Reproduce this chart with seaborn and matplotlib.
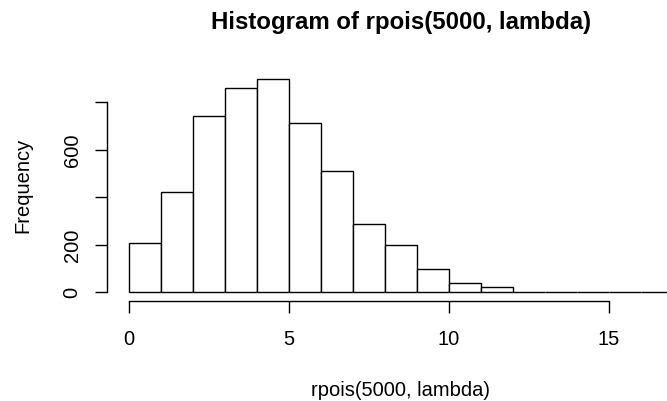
import matplotlib
matplotlib.use("Agg")
import matplotlib.pyplot as plt
import seaborn as sns
import numpy as np
import pandas as pd

# Histogram bins (left edges, unit width) and their counts
bin_left = [0, 1, 2, 3, 4, 5, 6, 7, 8, 9, 10, 11, 12, 13, 14, 15, 16]
counts = [210, 422, 742, 860, 897, 714, 512, 288, 199, 97, 40, 22, 0, 1, 1, 0, 1]
x_ticks = [0, 5, 10, 15]
y_ticks = [0, 200, 400, 600, 800]
y_ticklabels = ["0", "200", "", "600", ""]
title = "Histogram of rpois(5000, lambda)"
x_label = "rpois(5000, lambda)"
y_label = "Frequency"

sns.set_theme(style="white")
plt.rcParams["font.family"] = ["Liberation Sans", "DejaVu Sans"]

W, H = 667, 401
fig = plt.figure(figsize=(W / 100, H / 100), dpi=100)

# plot region in pixels (from top-left)
left_px, right_px = 107.0, 694.5
top_px, bottom_px = 70.7, 301.0
ax = fig.add_axes([left_px / W, 1 - bottom_px / H,
                   (right_px - left_px) / W, (bottom_px - top_px) / H])

df = pd.DataFrame({"mid": np.array(bin_left) + 0.5, "n": counts})
edges = list(bin_left) + [bin_left[-1] + 1]
sns.histplot(data=df, x="mid", weights="n", bins=edges, ax=ax,
             color="white", edgecolor="black", linewidth=1.0, alpha=1.0)

ymax = max(counts)
xr = edges[-1] - edges[0]
ax.set_xlim(edges[0] - 0.04 * xr, edges[-1] + 0.04 * xr)
ax.set_ylim(-0.04 * ymax, 1.04 * ymax)

for s in ["top", "right"]:
    ax.spines[s].set_visible(False)
for s in ["left", "bottom"]:
    ax.spines[s].set_color("black")
    ax.spines[s].set_linewidth(1.0)
ax.spines["left"].set_bounds(y_ticks[0], y_ticks[-1])
ax.spines["bottom"].set_bounds(x_ticks[0], x_ticks[-1])

ax.set_xticks(x_ticks)
ax.set_xticklabels([str(t) for t in x_ticks])
ax.set_yticks(y_ticks)
ax.set_yticklabels(y_ticklabels, rotation=90, va="center")
ax.tick_params(axis="both", direction="out", length=8.3, width=1.0,
               color="black", labelsize=14.5, labelcolor="black",
               left=True, bottom=True)
ax.tick_params(axis="x", pad=12.5)
ax.tick_params(axis="y", pad=10)

ax.set_xlabel(x_label, fontsize=14.5, color="black")
ax.set_ylabel(y_label, fontsize=14.5, color="black")
ax.xaxis.set_label_coords(0.5, (bottom_px - 390) / (bottom_px - top_px))
ax.xaxis.label.set_va("center")
ax.yaxis.set_label_coords((23 - left_px) / (right_px - left_px), 0.5)
ax.yaxis.label.set_va("center")

ax.text(0.5, 1 + (top_px - 22) / (bottom_px - top_px), title,
        transform=ax.transAxes, ha="center", va="center",
        fontsize=17.3, fontweight="bold", color="black")

ax.grid(False)
fig.savefig("out.png", dpi=100)
